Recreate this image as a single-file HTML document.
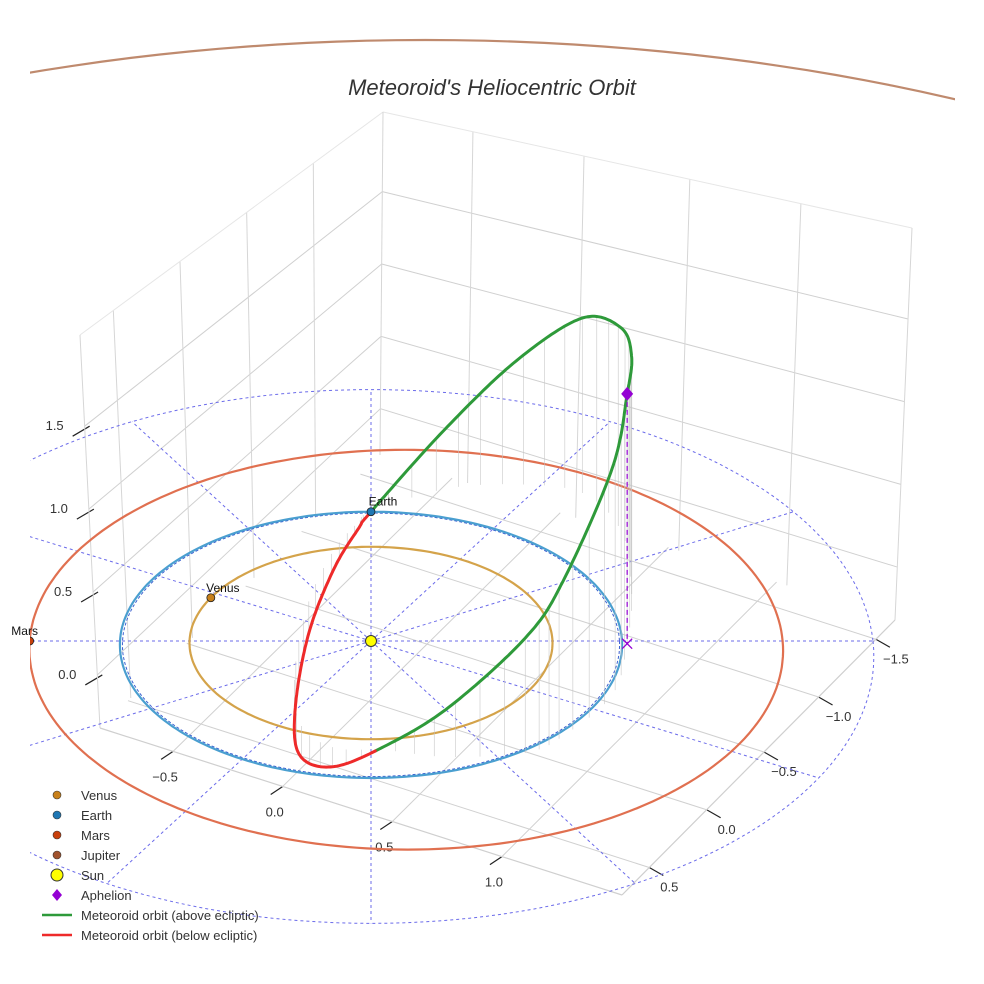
<!DOCTYPE html>
<html><head><meta charset="utf-8"><style>
html,body{margin:0;padding:0;background:#fff;overflow:hidden;width:984px;height:984px;}
svg{display:block;font-family:"Liberation Sans",sans-serif;}
</style></head><body>
<svg id="c" width="984" height="984" viewBox="0 0 984 984">
<defs><clipPath id="clip"><rect x="30" y="0" width="925" height="960"/></clipPath></defs>
<text x="492" y="95" text-anchor="middle" font-size="22" font-style="italic" fill="#333">Meteoroid's Heliocentric Orbit</text>
<g id="box"></g>
<g id="plot" clip-path="url(#clip)"></g>
<g id="labels"></g>
<g id="legend"></g>
</svg>
<script>
// ---- data ----
const planetNames = ["Venus","Earth","Mars","Jupiter"];
const planetA = [0.723, 1.0, 1.5, 5.2];
const planetCenterU = [0.0, 0.0, 0.14, 0.25];
const planetAngleDeg = [207, 270, 180, 100];
const planetOrbitColors = ["#d4a34a","#4a9fd0","#e07050","#bf8a6e"];
const planetMarkerColors = ["#c8801a","#1f77b4","#c8400c","#a0522d"];
const planetShowMarker = [true, true, true, false];
// meteoroid orbit points (u, v in AU on ecliptic, z above ecliptic)
const orbitU = [0, 0.3, 0.6, 0.87, 1.02, 1.05, 1.02, 0.95, 0.75, 0.6, 0.3, 0.05, -0.15, -0.28, -0.3, -0.25, -0.15, -0.05, 0];
const orbitV = [-1, -1.18, -1.22, -1.15, -0.85, -0.4, 0.02, 0.4, 0.7, 0.82, 0.85, 0.8, 0.78, 0.6, 0.2, -0.3, -0.7, -0.92, -1];
const orbitZ = [0, 0.38, 0.8, 1.13, 1.3, 1.47, 1.56, 1.4, 0.95, 0.7, 0.3, 0.02, -0.12, -0.2, -0.25, -0.2, -0.12, -0.04, 0];
const aphelionIndex = 6;
const zTicks = [0.0, 0.5, 1.0, 1.5];
const xTicks = ["−0.5","0.0","0.5","1.0"];
const yTicks = ["0.5","0.0","−0.5","−1.0","−1.5"];
const refRadius = 2.0;
const legendLabels = ["Venus","Earth","Mars","Jupiter","Sun","Aphelion","Meteoroid orbit (above ecliptic)","Meteoroid orbit (below ecliptic)"];

// ---- projection ----
const CX=371, CY=641, KU=251, KV=133, KZ=160, PC=0.029;
function P(u,v,z){const s=1/(1-PC*v);return [CX+KU*u*s, CY+(KV*v-KZ*z)*s];}
const NS="http://www.w3.org/2000/svg";
function mk(tag,attrs,parent){const e=document.createElementNS(NS,tag);for(const k in attrs)e.setAttribute(k,attrs[k]);parent.appendChild(e);return e;}
function pathFrom(pts){return pts.map((p,i)=>(i?"L":"M")+p[0].toFixed(1)+" "+p[1].toFixed(1)).join(" ");}

// ---- box (axes frame) ----
const box=document.getElementById('box');
const L=[100,728],F=[622,895],R=[895,620],B=[380,455];
const LT=[80,335],BT=[383,112],RT=[912,228];
function lerp(a,b,t){return [a[0]+(b[0]-a[0])*t,a[1]+(b[1]-a[1])*t];}
function ln(a,b,col,w,name){const e=mk('line',{x1:a[0],y1:a[1],x2:b[0],y2:b[1],stroke:col,'stroke-width':w},box);

}
const zMin=-0.32,zMax=2.05;
zTicks.forEach(z=>{const t=(z-zMin)/(zMax-zMin);
 const pl=lerp(L,LT,t), pb=lerp(B,BT,t), pr=lerp(R,RT,t);
 ln(pl,pb,"#d0d0d0",1,"z-gridline-left");ln(pb,pr,"#d0d0d0",1,"z-gridline-right");
 ln([pl[0]+5,pl[1]],[pl[0]-12,pl[1]+10],"#222",1.2,"z-tick");
 const tx=mk('text',{x:pl[0]-30,y:pl[1]+4,'font-size':13,fill:'#333','text-anchor':'middle'},box);tx.textContent=z.toFixed(1);
 
 
});
[0.11,0.33,0.55,0.77].forEach(t=>{ln(lerp(L,B,t),lerp(LT,BT,t),"#d6d6d6",1,"left-wall-vgrid");});
[0.17,0.38,0.58,0.79].forEach(t=>{ln(lerp(B,R,t),lerp(BT,RT,t),"#d6d6d6",1,"right-wall-vgrid");});
ln(LT,BT,"#e6e6e6",1,"box-top-edge");ln(BT,RT,"#e6e6e6",1,"box-top-edge");
ln(L,LT,"#d6d6d6",1,"box-edge");ln(B,BT,"#d6d6d6",1,"box-edge");ln(R,RT,"#d6d6d6",1,"box-edge");
const xF=[0.14,0.35,0.56,0.77];
xF.forEach((t,i)=>{const a=lerp(L,F,t),b=lerp(B,R,t);ln(a,b,"#d0d0d0",1,"floor-gridline-x");
 ln(a,[a[0]-12,a[1]+8],"#222",1.2,"x-tick");
 const tx=mk('text',{x:a[0]-8,y:a[1]+30,'font-size':13,fill:'#333','text-anchor':'middle'},box);tx.textContent=xTicks[i];
 
 });
const yF=[0.1,0.31,0.52,0.72,0.93];
yF.forEach((t,i)=>{const a=lerp(F,R,t),b=lerp(L,B,t);ln(a,b,"#d0d0d0",1,"floor-gridline-y");
 ln(a,[a[0]+14,a[1]+8],"#222",1.2,"y-tick");
 const tx=mk('text',{x:a[0]+20,y:a[1]+24,'font-size':13,fill:'#333','text-anchor':'middle'},box);tx.textContent=yTicks[i];
 
 });
ln(L,F,"#cfcfcf",1.2,"floor-edge");ln(F,R,"#cfcfcf",1.2,"floor-edge");

// ---- plot ----
const plot=document.getElementById('plot');
const labels=document.getElementById('labels');
function ellipsePts(a,cu,n){const pts=[];for(let i=0;i<=n;i++){const t=i/n*2*Math.PI;pts.push(P(cu+a*Math.cos(t),a*Math.sin(t),0));}return pts;}
let e=mk('path',{d:pathFrom(ellipsePts(refRadius,0,200)),fill:'none',stroke:'#6b6bea','stroke-width':1,'stroke-dasharray':'3,3'},plot);


e=mk('path',{d:pathFrom(ellipsePts(0.99,0,200)),fill:'none',stroke:'#3a5fd0','stroke-width':1,'stroke-dasharray':'3,2'},plot);


for(let k=0;k<12;k++){const t=k*Math.PI/6;const r=(k===6)?2.6:refRadius;
 const a=P(0,0,0),b=P(r*Math.cos(t),r*Math.sin(t),0);
 e=mk('line',{x1:a[0],y1:a[1],x2:b[0],y2:b[1],stroke:'#6b6bea','stroke-width':1,'stroke-dasharray':'3,3'},plot);
 
 }
planetNames.forEach((nm,i)=>{
 e=mk('path',{d:pathFrom(ellipsePts(planetA[i],planetCenterU[i],240)),fill:'none',stroke:planetOrbitColors[i],'stroke-width':2.2},plot);
 
 
});
function cr(p0,p1,p2,p3,t){const t2=t*t,t3=t2*t;return 0.5*((2*p1)+(-p0+p2)*t+(2*p0-5*p1+4*p2-p3)*t2+(-p0+3*p1-3*p2+p3)*t3);}
const n=orbitU.length-1; const samp=[];
for(let i=0;i<n;i++){const i0=(i-1+n)%n,i2=(i+1)%n,i3=(i+2)%n;
 for(let s=0;s<20;s++){const t=s/20;
  samp.push([cr(orbitU[i0],orbitU[i],orbitU[i2],orbitU[i3],t),cr(orbitV[i0],orbitV[i],orbitV[i2],orbitV[i3],t),cr(orbitZ[i0],orbitZ[i],orbitZ[i2],orbitZ[i3],t)]);}}
samp.push([orbitU[0],orbitV[0],orbitZ[0]]);
samp.forEach((q,i)=>{if(i%6!==0)return;const a=P(q[0],q[1],q[2]),b=P(q[0],q[1],0);
 e=mk('line',{x1:a[0],y1:a[1],x2:b[0],y2:b[1],stroke:'#c4c4c4','stroke-width':0.7,'stroke-opacity':0.8},plot);
 
 });
let seg=[],sign=null;
function flush(){if(seg.length>1){const g=mk('path',{d:pathFrom(seg),fill:'none',stroke:sign?'#2e9a3a':'#ee2a2a','stroke-width':3,'stroke-linecap':'round','stroke-linejoin':'round'},plot);
 
 }}
samp.forEach((q,i)=>{const sg=q[2]>=0 || (i===0);const p=P(q[0],q[1],q[2]);
 if(sign===null)sign=sg;
 if(sg!==sign){seg.push(p);flush();seg=[seg[seg.length-1]];sign=sg;}else seg.push(p);});
flush();
const ap=P(orbitU[aphelionIndex],orbitV[aphelionIndex],orbitZ[aphelionIndex]);
const apg=P(orbitU[aphelionIndex],orbitV[aphelionIndex],0);
e=mk('line',{x1:ap[0],y1:ap[1],x2:apg[0],y2:apg[1],stroke:'#9400d3','stroke-width':1.2,'stroke-dasharray':'5,3'},plot);


e=mk('path',{d:`M${ap[0]} ${ap[1]-7}L${ap[0]+6} ${ap[1]}L${ap[0]} ${ap[1]+7}L${ap[0]-6} ${ap[1]}Z`,fill:'#9400d3'},plot);


e=mk('path',{d:`M${apg[0]-5} ${apg[1]-5}L${apg[0]+5} ${apg[1]+5}M${apg[0]+5} ${apg[1]-5}L${apg[0]-5} ${apg[1]+5}`,stroke:'#9400d3','stroke-width':1.3},plot);


const sp=P(0,0,0);
e=mk('circle',{cx:sp[0],cy:sp[1],r:5.5,fill:'#ffff00',stroke:'#333','stroke-width':1},plot);


planetNames.forEach((nm,i)=>{if(!planetShowMarker[i])return;const t=planetAngleDeg[i]*Math.PI/180;
 const p=P(planetCenterU[i]+planetA[i]*Math.cos(t),planetA[i]*Math.sin(t),0);
 e=mk('circle',{cx:p[0],cy:p[1],r:4,fill:planetMarkerColors[i],stroke:'#222','stroke-width':0.8},plot);
 
 
 const lx = i===2 ? p[0]-5 : p[0]+12;
 e=mk('text',{x:lx,y:p[1]-6,'font-size':12,fill:'#111','text-anchor':'middle'},labels);e.textContent=nm;
 
 });

const lg=document.getElementById('legend');
legendLabels.forEach((lab,i)=>{const y=795+i*20;
 const g=mk('g',{},lg);
 
 
 if(i<4)mk('circle',{cx:57,cy:y,r:4,fill:planetMarkerColors[i],stroke:'#333','stroke-width':0.6},g);
 else if(i===4)mk('circle',{cx:57,cy:y,r:6,fill:'#ffff00',stroke:'#333','stroke-width':1},g);
 else if(i===5)mk('path',{d:`M57 ${y-6}L62 ${y}L57 ${y+6}L52 ${y}Z`,fill:'#9400d3'},g);
 else mk('line',{x1:42,y1:y,x2:72,y2:y,stroke:i===6?'#2e9a3a':'#ee2a2a','stroke-width':2.5},g);
 const t=mk('text',{x:81,y:y+5,'font-size':13,fill:'#333'},g);t.textContent=lab;});
</script>
</body></html>
